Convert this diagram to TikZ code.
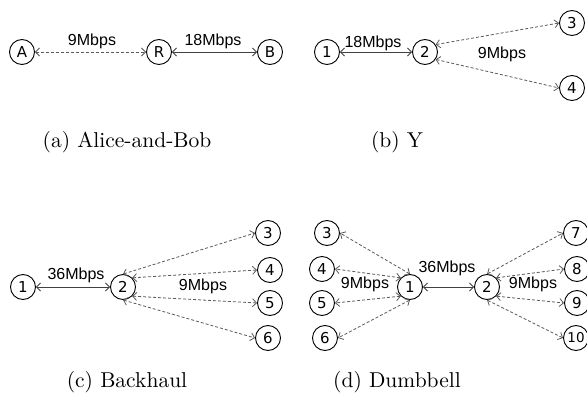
\documentclass[tikz,border=0pt]{standalone}
\usepackage{fontspec}
\setmainfont{Latin Modern Roman}
\newfontfamily\capfont{lmroman10-regular}[Extension=.otf]
\newfontfamily\labfont{Liberation Sans}
\newfontfamily\nodefont{DejaVu Sans}
\usetikzlibrary{arrows.meta}
\begin{document}
\begin{tikzpicture}[x=1pt,y=-1pt,
  nd/.style={circle,draw=black,line width=0.9pt,minimum size=25pt,inner sep=0pt,font=\nodefont\fontsize{15}{15}\selectfont},
  ndsm/.style={nd,font=\nodefont\fontsize{13.5}{14}\selectfont},
  biarrow/.style={{Straight Barb[length=4pt,width=8pt]}-{Straight Barb[length=4pt,width=8pt]}},
  solidlink/.style={biarrow,draw=black!75,line width=0.9pt},
  dashlink/.style={biarrow,draw=black!65,line width=0.8pt,dash pattern=on 3pt off 2pt},
  lab/.style={font=\labfont\fontsize{16}{16}\selectfont,inner sep=0pt},
  captext/.style={font=\capfont\fontsize{21.5}{25}\selectfont,inner sep=0pt}
]
\useasboundingbox (0,0) rectangle (587,412);
\clip (0,0) rectangle (587,412);
% (a)
\node[nd] (A) at (22,52) {A};
\node[nd] (R) at (159,52) {R};
\node[nd] (B) at (270,52) {B};
\draw[dashlink] (A) -- (R);
\draw[solidlink] (R) -- (B);
\node[lab] (la1) at (92,41) {9Mbps};
\node[lab] (la2) at (213,41) {18Mbps};
\node[captext] (ca) at (127,142) {(a) Alice-and-Bob};
% (b)
\node[nd] (b1) at (327,52) {1};
\node[nd] (b2) at (425,52) {2};
\node[nd] (b3) at (572,23) {3};
\node[nd] (b4) at (572,88) {4};
\draw[solidlink] (b1) -- (b2);
\draw[dashlink] (b2.35) -- (b3.west);
\draw[dashlink] (b2.-35) -- (b4.west);
\node[lab] (lb1) at (373,43) {18Mbps};
\node[lab] (lb2) at (502,54) {9Mbps};
\node[captext] (cb) at (397,142) {(b) Y};
% (c)
\node[nd] (c1) at (23,287) {1};
\node[nd] (c2) at (123,287) {2};
\node[nd] (c3) at (268,233) {3};
\node[nd] (c4) at (270,270) {4};
\node[nd] (c5) at (270,303) {5};
\node[nd] (c6) at (268,338) {6};
\draw[solidlink] (c1) -- (c2);
\draw[dashlink] (c2.north) -- (c3.west);
\draw[dashlink] (c2.45) -- (c4.west);
\draw[dashlink] (c2.-45) -- (c5.west);
\draw[dashlink] (c2.south) -- (c6.west);
\node[lab] (lc1) at (76,275) {36Mbps};
\node[lab] (lc2) at (203,286) {9Mbps};
\node[captext] (cc) at (127,382) {(c) Backhaul};
% (d)
\node[nd] (d1) at (410,287) {1};
\node[nd] (d2) at (487,287) {2};
\node[nd] (d3) at (327,233) {3};
\node[nd] (d4) at (322,269) {4};
\node[nd] (d5) at (322,303) {5};
\node[nd] (d6) at (325,338) {6};
\node[nd] (d7) at (576,233) {7};
\node[nd] (d8) at (577,269) {8};
\node[nd] (d9) at (577,303) {9};
\node[ndsm] (d10) at (576,338) {10};
\draw[solidlink] (d1) -- (d2);
\draw[dashlink] (d1.north) -- (d3.east);
\draw[dashlink] (d1.135) -- (d4.east);
\draw[dashlink] (d1.-135) -- (d5.east);
\draw[dashlink] (d1.south) -- (d6.east);
\draw[dashlink] (d2.north) -- (d7.west);
\draw[dashlink] (d2.45) -- (d8.west);
\draw[dashlink] (d2.-45) -- (d9.west);
\draw[dashlink] (d2.south) -- (d10.west);
\node[lab] (ld1) at (447,268) {36Mbps};
\node[lab] (ld2) at (365,284) {9Mbps};
\node[lab] (ld3) at (533,284) {9Mbps};
\node[captext] (cd) at (397,382) {(d) Dumbbell};
\end{tikzpicture}
\end{document}
